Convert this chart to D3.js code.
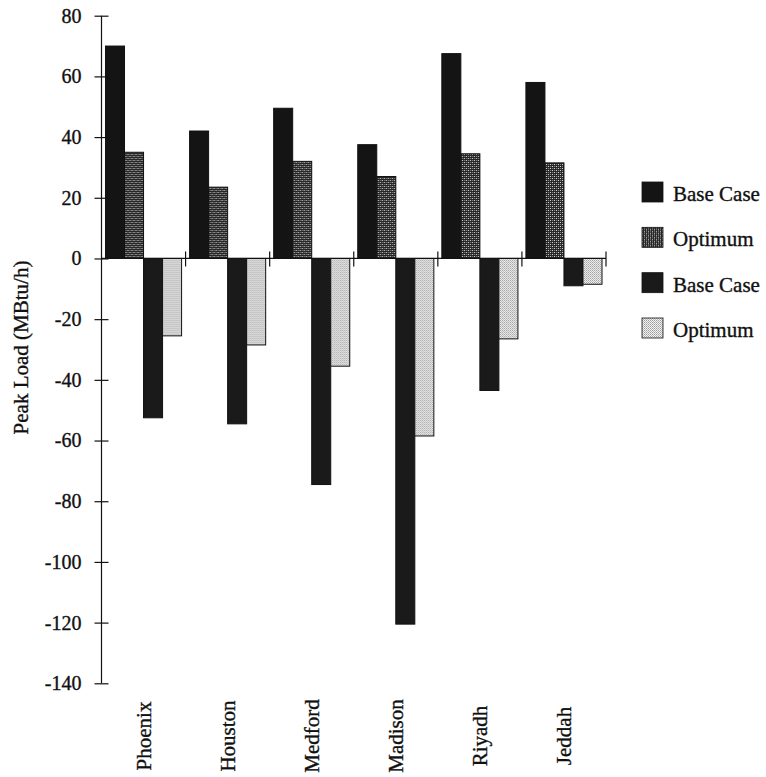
<!DOCTYPE html>
<html>
<head>
<meta charset="utf-8">
<script src="https://cdn.jsdelivr.net/npm/d3@7"></script>
<style>
  html, body { margin: 0; padding: 0; background: #fff; }
  svg { display: block; }
  text { font-family: "Liberation Serif", "Times New Roman", serif; fill: #111; stroke: #111; stroke-width: 0.35px; }
</style>
</head>
<body>
<svg id="chart" width="766" height="777"></svg>
<script>
// Peak loads per city (MBtu/h): positive = cooling, negative = heating
const cities = ["Phoenix", "Houston", "Medford", "Madison", "Riyadh", "Jeddah"];
const baseCaseCooling = [70, 42, 49.5, 37.5, 67.5, 58];
const optimumCooling  = [35, 23.5, 32, 27, 34.5, 31.5];
const baseCaseHeating = [-52.5, -54.5, -74.5, -120.5, -43.5, -9];
const optimumHeating  = [-25.5, -28.5, -35.5, -58.5, -26.5, -8.5];
const yTicks = [80, 60, 40, 20, 0, -20, -40, -60, -80, -100, -120, -140];
const legendLabels = ["Base Case", "Optimum", "Base Case", "Optimum"];

const seriesKeys = ["baseCool", "optCool", "baseHeat", "optHeat"];
const rows = cities.map((c, i) => ({
  city: c,
  baseCool: baseCaseCooling[i],
  optCool: optimumCooling[i],
  baseHeat: baseCaseHeating[i],
  optHeat: optimumHeating[i]
}));

const svg = d3.select("#chart");
const defs = svg.append("defs");

// dark checkered fill for cooling optimum
const pDark = defs.append("pattern").attr("id", "darkCheck")
  .attr("width", 4).attr("height", 4).attr("patternUnits", "userSpaceOnUse");
pDark.append("rect").attr("width", 4).attr("height", 4).attr("fill", "#262626");
[[0,0],[2,2]].forEach(([x,y]) => pDark.append("rect").attr("x", x).attr("y", y)
  .attr("width", 1).attr("height", 1).attr("fill", "#e0e0e0"));
[[2,0],[0,2]].forEach(([x,y]) => pDark.append("rect").attr("x", x).attr("y", y)
  .attr("width", 1).attr("height", 1).attr("fill", "#8a8a8a"));

// light dotted fill for heating optimum
const pLight = defs.append("pattern").attr("id", "lightDots")
  .attr("width", 2).attr("height", 2).attr("patternUnits", "userSpaceOnUse");
pLight.append("rect").attr("width", 2).attr("height", 2).attr("fill", "#f2f2f2");
pLight.append("rect").attr("x", 0).attr("y", 0).attr("width", 1).attr("height", 1).attr("fill", "#9c9c9c");
pLight.append("rect").attr("x", 1).attr("y", 1).attr("width", 1).attr("height", 1).attr("fill", "#b8b8b8");

const fills = {
  baseCool: "#141414",
  optCool: "url(#darkCheck)",
  baseHeat: "#1a1a1a",
  optHeat: "url(#lightDots)"
};

const axisX = 101.5;
const x0 = d3.scaleBand().domain(cities).range([axisX, 606]).padding(0);
const x1 = d3.scaleBand().domain(seriesKeys).range([0, x0.bandwidth()])
  .paddingInner(0).paddingOuter(0.21);
const y = d3.scaleLinear().domain([-140, 80]).range([683.3, 15.7]);

// bars
const groups = svg.append("g").selectAll("g").data(rows).join("g")
  .attr("transform", d => `translate(${x0(d.city)},0)`);
groups.selectAll("rect")
  .data(d => seriesKeys.map(k => ({ key: k, value: d[k] })))
  .join("rect")
  .attr("x", d => x1(d.key))
  .attr("width", x1.bandwidth())
  .attr("y", d => y(Math.max(0, d.value)))
  .attr("height", d => Math.abs(y(d.value) - y(0)))
  .attr("fill", d => fills[d.key])
  .attr("stroke", "#111")
  .attr("stroke-width", 1);

// zero line with category separators
svg.append("line")
  .attr("x1", axisX).attr("x2", 606)
  .attr("y1", y(0)).attr("y2", y(0))
  .attr("stroke", "#111").attr("stroke-width", 1.2);
svg.append("g").selectAll("line")
  .data(cities)
  .join("line")
  .attr("x1", d => x0(d) + x0.bandwidth()).attr("x2", d => x0(d) + x0.bandwidth())
  .attr("y1", y(0) - 7).attr("y2", y(0) + 8)
  .attr("stroke", "#111").attr("stroke-width", 1.2);

// y axis (plain hyphen for negative numbers)
const yAxis = d3.axisLeft(y).tickValues(yTicks).tickSize(7).tickPadding(13)
  .tickFormat(d => String(d));
const gy = svg.append("g").attr("transform", `translate(${axisX},0)`).call(yAxis);
gy.select(".domain").attr("stroke", "#111").attr("stroke-width", 1.2).attr("d", `M0,${y(80)}V${y(-140)}`);
gy.selectAll(".tick line").attr("x1", -7).attr("x2", 7).attr("stroke", "#111").attr("stroke-width", 1.2);
gy.selectAll(".tick text")
  .style("font-family", "'Liberation Serif', 'Times New Roman', serif")
  .style("font-size", "20px").attr("fill", "#111");

// y axis title
svg.append("text")
  .attr("transform", `translate(28,${(258 + 437) / 2}) rotate(-90)`)
  .attr("text-anchor", "middle")
  .style("font-size", "21px")
  .text("Peak Load (MBtu/h)");

// category labels
svg.append("g").selectAll("text").data(cities).join("text")
  .attr("transform", d => `translate(${x0(d) + x0.bandwidth() / 2 + 7},736) rotate(-90)`)
  .attr("text-anchor", "middle")
  .style("font-size", "21px")
  .text(d => d);

// legend
const legendFills = [fills.baseCool, fills.optCool, fills.baseHeat, fills.optHeat];
const legendY = d3.scalePoint().domain(d3.range(4)).range([192, 328]);
const lg = svg.append("g").selectAll("g").data(legendLabels).join("g")
  .attr("transform", (d, i) => `translate(642,${legendY(i)})`);
lg.append("rect")
  .attr("x", 0).attr("y", -10).attr("width", 21).attr("height", 20)
  .attr("fill", (d, i) => legendFills[i])
  .attr("stroke", "#111").attr("stroke-width", 0.8);
lg.append("text")
  .attr("x", 31).attr("y", 9)
  .style("font-size", "21px")
  .text(d => d);
</script>
</body>
</html>
